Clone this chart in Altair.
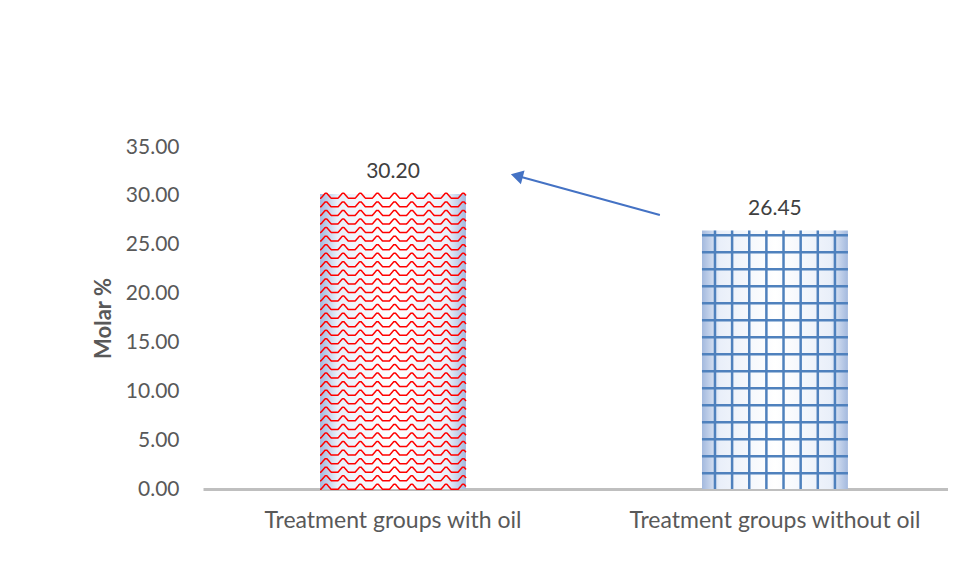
import altair as alt
import pandas as pd

# ---- chart data ----
categories = ["Treatment groups with oil", "Treatment groups without oil"]
values = [30.20, 26.45]
value_labels = ["30.20", "26.45"]
y_ticks = [0, 5, 10, 15, 20, 25, 30, 35]

# ---- decorative fill patterns (in data units) ----
wave_rows = [round(0.22 + 0.876 * i, 3) for i in range(35)]      # red zig-zag rows on bar 1
grid_rows = [round(1.6 + 1.74 * i, 3) for i in range(15)]        # blue horizontal grid lines on bar 2
grid_cols = list(range(8))                                       # blue vertical grid lines on bar 2

# ---- arrow annotation (x in category-index units, y in data units) ----
arrow_x = [0.696, 0.3215]
arrow_y = [28.04, 32.05]
arrow_head_angle = 285

bars_df = pd.DataFrame({"category": categories, "value": values, "label": value_labels})
waves_df = pd.DataFrame({"category": categories[0], "y": wave_rows})
hgrid_df = pd.DataFrame({"category": categories[1], "y": grid_rows})
vgrid_df = pd.DataFrame({"category": categories[1], "col": grid_cols,
                         "y0": 0.0, "y1": values[1]})
arrow_df = pd.DataFrame({"x": arrow_x, "y": arrow_y, "order": [0, 1]})
head_df = pd.DataFrame({"x": [arrow_x[1]], "y": [arrow_y[1]]})

FONT = "Lato"

# zig-zag symbol path (symbol space spans [-1, 1] across the bar width)
def wave_path():
    period = 0.235
    amp = 0.034
    start = -1.035
    pts = []
    n = 400
    for i in range(n + 1):
        x = -1 + 2 * i / n
        ph = ((x - start) / period) % 1.0
        if ph < 0.2:
            y = amp
        elif ph < 0.45:
            y = amp - 2 * amp * (ph - 0.2) / 0.25
        elif ph < 0.55:
            y = -amp
        elif ph < 0.8:
            y = -amp + 2 * amp * (ph - 0.55) / 0.25
        else:
            y = amp
        pts.append(f"{x:.4f},{y:.4f}")
    return "M" + " L".join(pts)

x_scale = alt.Scale(domain=categories, paddingInner=0.618, paddingOuter=0.2842, align=0.539)
y_scale = alt.Scale(domain=[0, 35], nice=False)

x_enc = alt.X("category:N", scale=x_scale, sort=categories,
              axis=alt.Axis(title=None, labelAngle=0, ticks=False, tickSize=0, grid=False,
                            domainColor="#bfbfbf", domainWidth=3, labelLimit=0,
                            labelFont=FONT, labelFontSize=23, labelColor="#595959",
                            labelPadding=20))
y_enc_axis = alt.Y("value:Q", scale=y_scale,
                   axis=alt.Axis(values=y_ticks, format=".2f", ticks=False, tickSize=0,
                                 domain=False, grid=False,
                                 labelFont=FONT, labelFontSize=21, labelColor="#595959",
                                 labelPadding=24,
                                 title="Molar %", titleFont=FONT, titleFontSize=22,
                                 titleFontWeight="bold", titleColor="#595959",
                                 titlePadding=10))

grad = alt.Gradient(
    gradient="linear", x1=0, x2=1, y1=0, y2=0,
    stops=[alt.GradientStop(offset=0, color="#a3b9de"),
           alt.GradientStop(offset=0.12, color="#e9eff9"),
           alt.GradientStop(offset=0.5, color="#ffffff"),
           alt.GradientStop(offset=0.88, color="#e9eff9"),
           alt.GradientStop(offset=1, color="#a3b9de")])

bars = alt.Chart(bars_df).mark_bar(color=grad).encode(x=x_enc, y=y_enc_axis)

waves = alt.Chart(waves_df).mark_point(
    shape=wave_path(), size=146 * 146, filled=False, stroke="#ff0000",
    strokeWidth=1.5, opacity=1
).encode(x=alt.X("category:N", scale=x_scale, sort=categories),
         y=alt.Y("y:Q", scale=y_scale))

hgrid = alt.Chart(hgrid_df).mark_tick(
    color="#4f81bd", size=146, thickness=2.5, opacity=1
).encode(x=alt.X("category:N", scale=x_scale, sort=categories),
         y=alt.Y("y:Q", scale=y_scale))

vgrid = alt.Chart(vgrid_df).mark_rule(color="#4f81bd", strokeWidth=2.5).encode(
    x=alt.X("category:N", scale=x_scale, sort=categories),
    xOffset=alt.XOffset("col:O", scale=alt.Scale(paddingInner=0, paddingOuter=0.257)),
    y=alt.Y("y0:Q", scale=y_scale), y2="y1:Q")

labels = alt.Chart(bars_df).mark_text(
    font=FONT, fontSize=21, color="#404040", baseline="alphabetic", dy=-16
).encode(x=alt.X("category:N", scale=x_scale, sort=categories),
         y=alt.Y("value:Q", scale=y_scale), text="label:N")

main = alt.layer(bars, waves, hgrid, vgrid, labels)

ax_scale = alt.Scale(domain=[-0.5, 1.5], range=[0, 764], nice=False, zero=False)
arrow_line = alt.Chart(arrow_df).mark_line(color="#4472c4", strokeWidth=2).encode(
    x=alt.X("x:Q", scale=ax_scale, axis=None),
    y=alt.Y("y:Q", scale=y_scale), order="order:Q")
arrow_head = alt.Chart(head_df).mark_point(
    shape="triangle-up", size=200, filled=True, color="#4472c4", opacity=1,
    angle=arrow_head_angle
).encode(x=alt.X("x:Q", scale=ax_scale, axis=None), y=alt.Y("y:Q", scale=y_scale))

chart = alt.layer(main, arrow_line, arrow_head).resolve_scale(x="independent").properties(
    width=745, height=342,
    padding={"left": 195, "top": 139, "right": 0, "bottom": 50},
    autosize=alt.AutoSizeParams(type="none"),
    background="white",
).configure_view(strokeWidth=0, stroke="transparent")

chart.save("out.html", embed_options={"renderer": "svg", "actions": False})
